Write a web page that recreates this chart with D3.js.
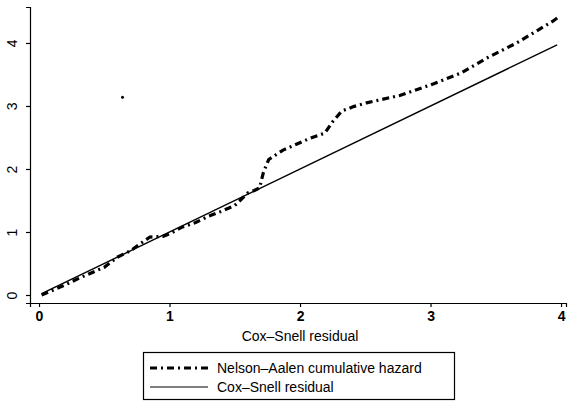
<!DOCTYPE html>
<html>
<head>
<meta charset="utf-8">
<script src="https://cdn.jsdelivr.net/npm/d3@7"></script>
<style>
  body { margin: 0; background: #fff; }
  svg { display: block; font-family: "Liberation Sans", Arial, sans-serif; }
</style>
</head>
<body>
<div id="chart"></div>
<script>
// Nelson-Aalen cumulative hazard of the Cox-Snell residuals
const naX = [0.02, 0.1, 0.2, 0.3, 0.4, 0.5, 0.55, 0.6, 0.7, 0.78, 0.85, 0.95, 1.0, 1.1, 1.2, 1.3, 1.4, 1.5, 1.55, 1.6, 1.65, 1.69,
             1.72, 1.76, 1.87, 2.08, 2.19, 2.25, 2.32, 2.41, 2.51, 2.77, 3.02, 3.23, 3.43, 3.66, 3.94, 3.98];
const naY = [0.0, 0.07, 0.16, 0.26, 0.35, 0.44, 0.52, 0.6, 0.7, 0.82, 0.92, 0.93, 0.97, 1.08, 1.15, 1.25, 1.33, 1.42, 1.52, 1.62, 1.66, 1.7,
             1.95, 2.15, 2.3, 2.49, 2.57, 2.75, 2.92, 2.99, 3.05, 3.17, 3.35, 3.52, 3.76, 4.0, 4.35, 4.41];
// reference line (45 degree)
const refX = [0.02, 3.97];
const refY = [0.02, 3.97];
// stray point
const strayX = [0.64];
const strayY = [3.14];

const xTicks = [0, 1, 2, 3, 4];
const yTicks = [0, 1, 2, 3, 4];
const xTitle = 'Cox\u2013Snell residual';
const legendLabels = ['Nelson\u2013Aalen cumulative hazard', 'Cox\u2013Snell residual'];

const width = 568, height = 404;
const svg = d3.select('#chart').append('svg')
    .attr('width', width).attr('height', height);

const x = d3.scaleLinear().domain([-0.069, 4.038]).range([30, 566]);
const y = d3.scaleLinear().domain([-0.127, 4.571]).range([303, 7]);

// axes
const xAxis = svg.append('g')
    .attr('transform', 'translate(0,303)')
    .call(d3.axisBottom(x).tickValues(xTicks).tickSizeOuter(0).tickSize(4).tickPadding(4).tickFormat(d3.format('d')));
xAxis.selectAll('text').style('font-size', '14px').style('font-weight', 'bold').attr('fill', '#000');

const yAxis = svg.append('g')
    .attr('transform', 'translate(30,0)')
    .call(d3.axisLeft(y).tickValues(yTicks).tickSizeOuter(0).tickSize(4).tickFormat(d3.format('d')));
yAxis.selectAll('text')
    .style('font-size', '14px')
    .attr('fill', '#000')
    .attr('text-anchor', 'middle')
    .attr('x', 0).attr('dy', 0)
    .attr('transform', 'translate(-13,0) rotate(-90)')
    .attr('y', 0);
svg.selectAll('.domain, .tick line').attr('stroke', '#000').attr('stroke-width', 1.2);

svg.append('text')
    .attr('x', 300).attr('y', 341)
    .attr('text-anchor', 'middle')
    .style('font-size', '14px')
    .text(xTitle);

// lines
const naLine = d3.line().x((d, i) => x(naX[i])).y((d, i) => y(naY[i]));
const refLine = d3.line().x((d, i) => x(refX[i])).y((d, i) => y(refY[i]));

svg.append('path')
    .datum(refX)
    .attr('d', refLine)
    .attr('fill', 'none')
    .attr('stroke', '#000')
    .attr('stroke-width', 1.4);

svg.append('path')
    .datum(naX)
    .attr('d', naLine)
    .attr('fill', 'none')
    .attr('stroke', '#000')
    .attr('stroke-width', 3.2)
    .attr('stroke-dasharray', '7,4,2,4');

svg.selectAll('.stray')
    .data(strayX)
    .enter().append('circle')
    .attr('class', 'stray')
    .attr('cx', (d, i) => x(strayX[i]))
    .attr('cy', (d, i) => y(strayY[i]))
    .attr('r', 1.5)
    .attr('fill', '#000');

// legend
const legend = svg.append('g');
legend.append('rect')
    .attr('x', 143.5).attr('y', 352.5)
    .attr('width', 311).attr('height', 47)
    .attr('fill', 'none').attr('stroke', '#000').attr('stroke-width', 1.2);

const rows = [
    { dash: '7,4,2,4', w: 3.2 },
    { dash: null, w: 1 }
];
rows.forEach((r, i) => {
    const yy = 368 + i * 19;
    legend.append('line')
        .attr('x1', 150).attr('x2', 208)
        .attr('y1', yy).attr('y2', yy)
        .attr('stroke', '#000')
        .attr('stroke-width', r.w)
        .attr('stroke-dasharray', r.dash);
    legend.append('text')
        .attr('x', 217).attr('y', yy + 5)
        .style('font-size', '14px')
        .text(legendLabels[i]);
});
</script>
</body>
</html>
